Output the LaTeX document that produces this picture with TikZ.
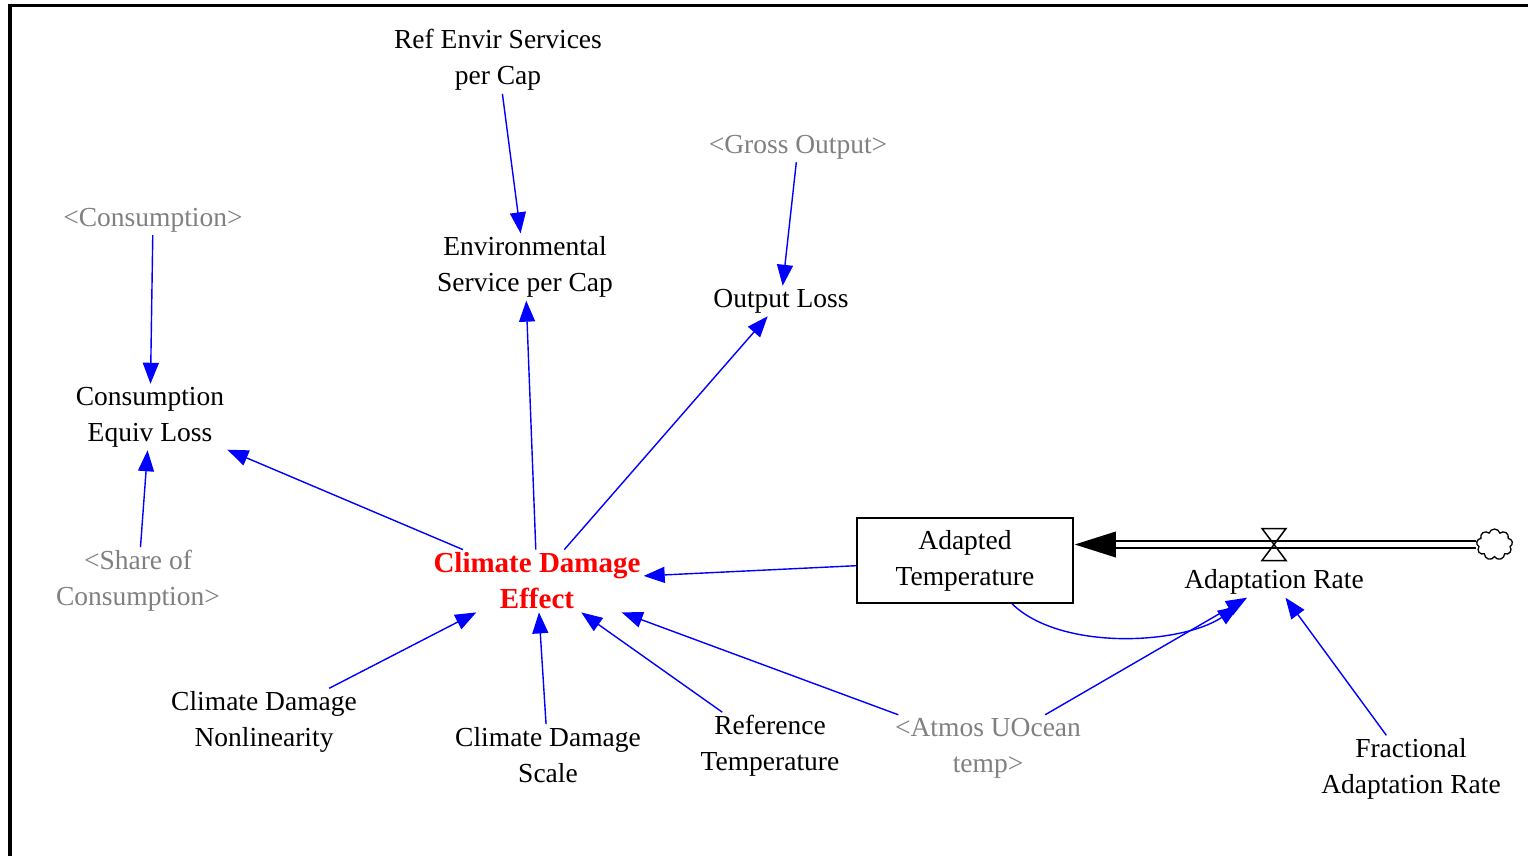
\documentclass[tikz,border=0pt]{standalone}
\usepackage{fontspec}
\setmainfont{Liberation Serif}
\usetikzlibrary{arrows.meta,shapes.symbols,calc}
\definecolor{vblue}{RGB}{0,0,255}
\definecolor{vred}{RGB}{255,0,0}
\definecolor{vgray}{RGB}{128,128,128}
\begin{document}
\begin{tikzpicture}[x=1pt,y=-1pt,
  var/.style={align=center,font=\fontsize{27.5}{36}\selectfont,inner sep=3pt},
  shadowvar/.style={var,text=vgray},
  link/.style={draw=vblue,line width=1.4pt,-{Triangle[length=21pt,width=16pt]}},
  pipe/.style={line width=2pt,double=white,double distance=5pt},
]
\useasboundingbox (0,0) rectangle (1528,855);
\draw[line width=3.5pt] (10,857) -- (10,5.5) -- (1530,5.5);

% variables
\node[var] (ref) at (498,60) {Ref Envir Services\\per Cap};
\node[shadowvar] (gross) at (798,147) {<Gross Output>};
\node[shadowvar] (cons) at (153,220) {<Consumption>};
\node[var] (env) at (525,267) {Environmental\\Service per Cap};
\node[var] (out) at (781,301) {Output Loss};
\node[var] (cel) at (150,417) {Consumption\\Equiv Loss};
\node[shadowvar] (share) at (138,581) {<Share of\\Consumption>};
\node[var,text=vred,font=\bfseries\fontsize{29}{36}\selectfont] (cde) at (537,581) {Climate Damage\\Effect};
\node[var,draw,line width=1.5pt,minimum width=216pt,minimum height=85pt] (at) at (965,560.5) {Adapted\\Temperature};
\node[var] (ar) at (1274,582) {Adaptation Rate};
\node[draw,line width=1.3pt,cloud,cloud puffs=9,minimum width=36pt,minimum height=31pt,inner sep=0pt] (cloud) at (1494.5,544.5) {};
\node[var] (nonlin) at (264,722) {Climate Damage\\Nonlinearity};
\node[var] (scale) at (548,755) {Climate Damage\\Scale};
\node[var] (reft) at (770,746) {Reference\\Temperature};
\node[shadowvar] (atmos) at (988,748) {<Atmos UOcean\\temp>};
\node[var] (frac) at (1411,769) {Fractional\\Adaptation Rate};

% flow pipe
\coordinate (valve) at (1274,544.5);
\coordinate (pipeend) at (cloud.west -| at.east);
\draw[pipe] (cloud.west) -- ($(pipeend)+(40,0)$);
\fill ($(pipeend)+(1,0)$) -- ($(pipeend)+(42,-13)$) -- ($(pipeend)+(42,13)$) -- cycle;
\draw[line width=1.5pt,line join=miter] ($(valve)+(-12,-16)$) -- ($(valve)+(12,-16)$) -- ($(valve)+(-12,16)$) -- ($(valve)+(12,16)$) -- cycle;

% links
\draw[link] (ref) -- (env);
\draw[link] (gross) -- (out);
\draw[link] (cons) -- (cel);
\draw[link] (share) -- (cel);
\draw[link] (cde) -- (cel);
\draw[link] (cde) -- (env);
\draw[link] (cde) -- (out);
\draw[link] (at) -- (cde);
\draw[link] (nonlin) -- (cde);
\draw[link] (scale) -- (cde);
\draw[link] (reft) -- (cde);
\draw[link] (atmos) -- (cde);
\draw[link] (atmos) -- (ar);
\draw[link] (frac) -- (ar);
\draw[link] ([xshift=47pt]at.south) .. controls ($(at.south)+(95,47)$) and ($(ar.center)+(-94,63)$) .. ($(ar.center)+(-35,24)$);
\end{tikzpicture}
\end{document}
